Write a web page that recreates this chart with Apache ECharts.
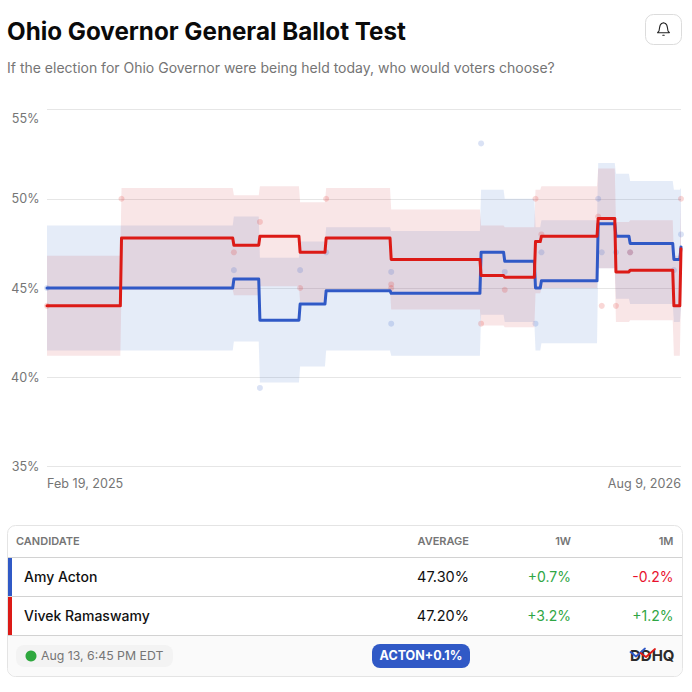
<!DOCTYPE html>
<html><head><meta charset="utf-8">
<style>html,body{margin:0;padding:0;background:#fff}#c{width:692px;height:692px}</style>
<script src="https://cdn.jsdelivr.net/npm/echarts@6/dist/echarts.min.js"></script>
</head><body><div id="c"></div>
<script>
const titleText = 'Ohio Governor General Ballot Test';
const subtitleText = 'If the election for Ohio Governor were being held today, who would voters choose?';
const startDate = '2025-02-19';
const endDate = '2026-08-09';
const xTickLabels = ['Feb 19, 2025', 'Aug 9, 2026'];
const yTicks = [35, 40, 45, 50, 55];

const stepDates = ['2025-02-19','2025-04-23','2025-07-27','2025-08-18','2025-09-21','2025-10-13','2025-12-07','2026-02-21','2026-03-13','2026-04-08','2026-04-13','2026-05-31','2026-06-15','2026-06-27','2026-08-03','2026-08-09'];
const actonAvg = [45,45,45.5,43.2,44.1,44.85,44.7,47.0,46.5,45.0,45.4,48.6,47.9,47.5,46.6,47.3];
const actonHi  = [48.5,48.5,49.0,46.7,47.6,48.4,48.2,50.5,50.0,48.4,48.8,52.0,51.4,51.0,50.5,50.6];
const actonLo  = [41.5,41.5,42.0,39.7,40.6,41.5,41.2,43.5,43.1,41.5,41.9,46.1,44.4,44.1,43.1,43.8];
const vivekAvg = [44,47.8,47.4,47.9,47.0,47.8,46.6,45.7,45.6,47.6,47.9,48.9,45.9,46.0,44.0,47.2];
const vivekHi  = [46.8,50.6,50.2,50.7,49.8,50.6,49.4,48.5,48.4,50.5,50.7,51.7,48.7,48.8,46.8,50.0];
const vivekLo  = [41.2,44.9,44.6,45.1,44.2,44.9,43.8,42.9,42.8,44.7,45.0,46.1,43.1,43.2,41.2,44.4];

const actonPolls = [['2025-02-19',45],['2025-07-27',46],['2025-08-18',39.4],['2025-09-21',46],['2025-10-13',47],['2025-12-07',45.9],['2025-12-07',43],['2026-02-21',53.1],['2026-03-13',45.9],['2026-04-08',43],['2026-04-13',47],['2026-05-31',50],['2026-06-03',47],['2026-06-15',47],['2026-06-27',47],['2026-08-03',46],['2026-08-09',48]];
const vivekPolls = [['2025-02-19',44],['2025-04-23',50],['2025-07-27',47],['2025-08-18',48.7],['2025-09-21',45],['2025-10-13',50],['2025-12-07',45],['2025-12-07',45.2],['2026-02-21',43],['2026-03-13',44.9],['2026-04-08',50],['2026-04-13',48],['2026-05-31',49],['2026-06-03',44],['2026-06-15',44],['2026-06-27',47],['2026-08-09',50]];

const tableHeaders = ['CANDIDATE','AVERAGE','1W','1M'];
const candidates = ['Amy Acton','Vivek Ramaswamy'];
const averages = ['47.30%','47.20%'];
const oneWeek = ['+0.7%','+3.2%'];
const oneMonth = ['-0.2%','+1.2%'];
const updatedText = 'Aug 13, 6:45 PM EDT';
const leadText = 'ACTON+0.1%';
const logoText = 'DDHQ';

const BLUE = '#3059c6', RED = '#dc1a16', GREY = '#757575', GREEN = '#2fa644', NEG = '#e8112d';
const FONT = 'Inter';
const DAY = 86400000;
const ms = s => Date.parse(s + 'T00:00:00Z');

// Holds each value until the day before the next date, so the line steps.
function steps(vals) {
  const out = [];
  vals.forEach((v, i) => {
    if (i > 0) out.push([ms(stepDates[i]) - DAY, vals[i - 1]]);
    out.push([ms(stepDates[i]), v]);
  });
  return out;
}
function bandSeries(name, lo, hi, color) {
  const upper = steps(hi), lower = steps(lo);
  return {
    type: 'custom', name, silent: true, z: 2, clip: true,
    encode: {x: 0, y: 1},
    data: upper,
    renderItem(params, api) {
      if (params.dataIndex !== 0) return null;
      const pts = upper.concat(lower.slice().reverse()).map(p => api.coord(p));
      return {type: 'polygon', shape: {points: pts}, style: {fill: color}};
    }
  };
}
const pollSeries = (name, data, color) => ({
  type: 'scatter', name, symbolSize: 6, z: 3, silent: true,
  itemStyle: {color},
  data: data.map(d => [ms(d[0]), d[1]])
});
const lineSeries = (name, vals, color, z) => ({
  type: 'line', name, symbol: 'none', silent: true, z,
  lineStyle: {width: 3, color, join: 'round', cap: 'round'},
  data: steps(vals)
});

// Table drawing
const T = (x, y, text, o) => ({type: 'text', x, y, silent: true, z: 20, style: Object.assign({
  text, fontFamily: FONT, fontSize: 14, fontWeight: 400, fill: '#111', align: 'left', verticalAlign: 'middle'}, o)});
const R = (x, y, w, h, fill, r, stroke) => ({type: 'rect', silent: true, z: 10,
  shape: {x, y, width: w, height: h, r: r || 0},
  style: {fill: fill || 'transparent', stroke: stroke || null, lineWidth: stroke ? 1 : 0}});
const colX = [16, 469, 571, 673.5];
const rowY = [576.7, 615.7];
const hr = y => R(8, y, 674, 1, '#d2d2d2');
const pctColor = s => s[0] === '-' ? NEG : GREEN;
const stroke = (points, color, w, z) => ({type: 'polyline', silent: true, z: z || 21, shape: {points},
  style: {fill: 'none', stroke: color, lineWidth: w, lineJoin: 'round', lineCap: 'round'}});

const graphics = [
  R(645.5, 14.5, 36, 30, '#fff', 8, '#dcdcdc'),
  stroke([[657.6,32.7],[659,31],[659.6,27.5],[660.2,25.2],[661.6,23.4],[663.5,22.7],[665.4,23.4],[666.8,25.2],[667.4,27.5],[668,31],[669.4,32.7],[657.6,32.7]], '#222', 1.1),
  stroke([[662.8,35.2],[664.2,35.2]], '#222', 1.1),
  R(7.5, 525.5, 675, 151, '#fff', 8, '#e4e4e4'),
  R(8, 636, 674, 40, '#fafafa', [0, 0, 8, 8]),
  hr(557), hr(596), hr(635),
  R(8, 558, 4, 38, BLUE),
  R(8, 597, 4, 38, RED),
  T(colX[0], 540.5, tableHeaders[0], {fontSize: 11, fontWeight: 600, fill: GREY}),
  T(colX[1], 540.5, tableHeaders[1], {fontSize: 11, fontWeight: 600, fill: GREY, align: 'right'}),
  T(colX[2], 540.5, tableHeaders[2], {fontSize: 11, fontWeight: 600, fill: GREY, align: 'right'}),
  T(colX[3], 540.5, tableHeaders[3], {fontSize: 11, fontWeight: 600, fill: GREY, align: 'right'}),
  R(16, 645, 157, 22, '#f3f3f3', 8),
  {type: 'circle', silent: true, z: 11, shape: {cx: 31, cy: 656, r: 5.5}, style: {fill: '#2fa83f'}},
  T(41, 655.7, updatedText, {fontSize: 12.3, fill: GREY}),
  R(372, 644, 98, 24, BLUE, 8),
  T(421, 655.7, leadText, {fontSize: 12.5, fontWeight: 700, fill: '#fff', align: 'center'}),
  T(630, 655.7, logoText, {fontSize: 15, fontWeight: 700, fill: '#2b2b2b'}),
  stroke([[630.5, 652], [636, 656.5], [645, 648.5]], BLUE, 1.8, 22),
  stroke([[640.5, 653], [646, 657], [655, 649]], RED, 1.8, 23)
];
candidates.forEach((c, i) => {
  graphics.push(T(24, rowY[i], c, {fontWeight: 450}));
  graphics.push(T(colX[1], rowY[i], averages[i], {align: 'right', fontSize: 14.5}));
  graphics.push(T(colX[2], rowY[i], oneWeek[i], {align: 'right', fill: pctColor(oneWeek[i])}));
  graphics.push(T(colX[3], rowY[i], oneMonth[i], {align: 'right', fill: pctColor(oneMonth[i])}));
});

const chart = echarts.init(document.getElementById('c'), null, {renderer: 'svg', width: 692, height: 692});
chart.setOption({
  animation: false,
  backgroundColor: '#fff',
  title: {
    text: titleText, subtext: subtitleText, left: 7, top: 19, padding: 0, itemGap: 17,
    textStyle: {fontFamily: FONT, fontSize: 24.2, fontWeight: 700, color: '#0a0a0a'},
    subtextStyle: {fontFamily: FONT, fontSize: 14, color: GREY}
  },
  grid: {left: 47, right: 11, top: 109.5, bottom: 225.5},
  xAxis: {
    type: 'value', min: ms(startDate), max: ms(endDate), scale: true,
    axisLine: {show: false}, axisTick: {show: false}, splitLine: {show: false},
    axisLabel: {
      customValues: [ms(startDate), ms(endDate)],
      alignMinLabel: 'left', alignMaxLabel: 'right', margin: 10,
      fontFamily: FONT, fontSize: 12.6, color: GREY,
      formatter: v => v === ms(startDate) ? xTickLabels[0] : xTickLabels[1]
    }
  },
  yAxis: {
    type: 'value', min: yTicks[0], max: yTicks[yTicks.length - 1], interval: 5,
    axisLine: {show: false}, axisTick: {show: false},
    splitLine: {lineStyle: {color: '#e6e6e6', width: 1}},
    axisLabel: {formatter: '{value}%', margin: 7.5, fontFamily: FONT, fontSize: 12.6, lineHeight: 18, color: GREY, verticalAlignMaxLabel: 'top'}
  },
  series: [
    bandSeries('Amy Acton band', actonLo, actonHi, 'rgba(50,100,200,0.125)'),
    bandSeries('Vivek Ramaswamy band', vivekLo, vivekHi, 'rgba(200,30,40,0.11)'),
    pollSeries('Amy Acton polls', actonPolls, 'rgba(48,89,198,0.22)'),
    pollSeries('Vivek Ramaswamy polls', vivekPolls, 'rgba(220,26,22,0.22)'),
    lineSeries('Amy Acton', actonAvg, BLUE, 5),
    lineSeries('Vivek Ramaswamy', vivekAvg, RED, 6)
  ],
  graphic: {elements: graphics}
});
</script></body></html>
